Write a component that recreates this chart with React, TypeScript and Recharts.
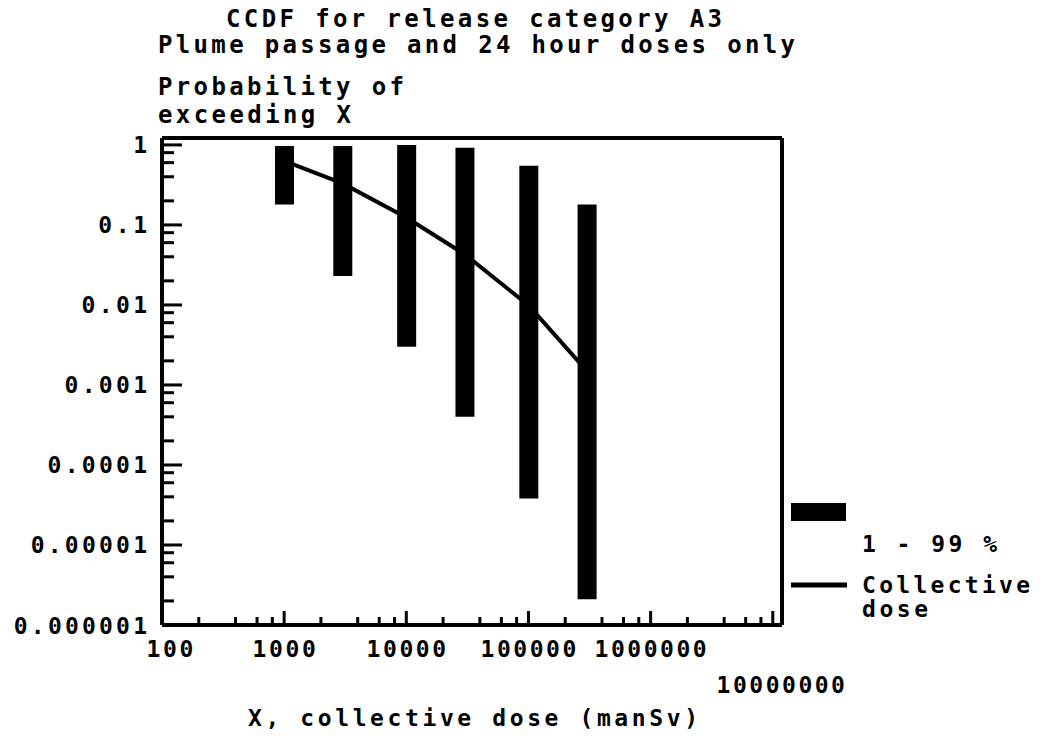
import React from "react";
import { ComposedChart, Bar, Line, ReferenceLine, XAxis, YAxis } from "recharts";

// collective dose X (manSv) and probability of exceeding X
const doses = [1000, 3000, 10000, 30000, 100000, 300000];
const pLow = [0.18, 0.023, 0.003, 0.0004, 0.000038, 0.0000021]; // 1 %
const pHigh = [0.97, 0.97, 1.0, 0.92, 0.55, 0.18]; // 99 %
const collective = [0.63, 0.33, 0.124, 0.043, 0.0099, 0.0015];

const xMajor = [100, 1000, 10000, 100000, 1000000, 10000000];
const xLabels = ["100", "1000", "10000", "100000", "1000000", "10000000"];
const yMajor = [0.000001, 0.00001, 0.0001, 0.001, 0.01, 0.1, 1];
const yLabels = ["0.000001", "0.00001", "0.0001", "0.001", "0.01", "0.1", "1"];
const minorSteps = [2, 4, 6, 8];

const xDomain = [100, 11900000];
const yDomain = [0.000001, 1.22];

const data = doses.map((x, i) => ({ x, range: [pLow[i], pHigh[i]], dose: collective[i] }));

const minors = (majors: number[]) =>
  majors.slice(0, -1).flatMap((m) => minorSteps.map((s) => m * s));

// minor tick length expressed as a fraction of a decade on each axis
const xMinorLen = Math.pow(10, 8 / 80);
const yMinorLen = Math.pow(10, 12 / 122);

const majorIndex = (majors: number[], v: number) =>
  majors.findIndex((m) => Math.abs(Math.log10(m) - Math.log10(v)) < 1e-6);

const MONO = "'DejaVu Sans Mono', monospace";

function XTick(props: any) {
  const { x, y, payload } = props;
  const i = majorIndex(xMajor, payload.value);
  if (i < 0) return <g />;
  const last = i === xMajor.length - 1;
  const first = i === 0;
  return (
    <g>
      <line x1={x} x2={x} y1={y} y2={y - 14} stroke="#000" strokeWidth={3} />
      <text
        x={x + (first ? 8 : last ? 8 : 0)}
        y={y + (last ? 68 : 32)}
        textAnchor="middle"
        fontFamily={MONO}
        fontWeight="bold"
        fontSize={23}
        textLength={xLabels[i].length * 16.3 - 2}
        lengthAdjust="spacing"
        fill="#000"
      >
        {xLabels[i]}
      </text>
    </g>
  );
}

function YTick(props: any) {
  const { x, y, payload } = props;
  const i = majorIndex(yMajor, payload.value);
  if (i < 0) return <g />;
  return (
    <g>
      <line x1={x} x2={x + 20} y1={y} y2={y} stroke="#000" strokeWidth={3} />
      <text
        x={x - 15}
        y={y + 8.5}
        textAnchor="end"
        fontFamily={MONO}
        fontWeight="bold"
        fontSize={23}
        textLength={yLabels[i].length * 16.9 - 2}
        lengthAdjust="spacing"
        fill="#000"
      >
        {yLabels[i]}
      </text>
    </g>
  );
}

export default function App() {
  const txt = { fontFamily: MONO, fontSize: 24, fontWeight: "bold", fill: "#000" };
  return (
    <div style={{ position: "relative", width: 1047, height: 739, margin: -8, background: "#fff" }}>
      <ComposedChart
        width={1047}
        height={739}
        data={data}
        margin={{ top: 137, right: 264, bottom: 113, left: 161 }}
      >
        <XAxis
          dataKey="x"
          type="number"
          scale="log"
          domain={xDomain}
          allowDataOverflow
          ticks={xMajor}
          interval={0}
          height={1}
          tickSize={0}
          tickMargin={0}
          tickLine={false}
          tick={<XTick />}
          axisLine={{ stroke: "#000", strokeWidth: 4 }}
        />
        <XAxis
          xAxisId="top"
          orientation="top"
          type="number"
          scale="log"
          domain={xDomain}
          allowDataOverflow
          height={1}
          tick={false}
          tickLine={false}
          axisLine={{ stroke: "#000", strokeWidth: 4 }}
        />
        <YAxis
          type="number"
          scale="log"
          domain={yDomain}
          allowDataOverflow
          ticks={yMajor}
          interval={0}
          width={1}
          tickSize={0}
          tickMargin={0}
          tickLine={false}
          tick={<YTick />}
          axisLine={{ stroke: "#000", strokeWidth: 4 }}
        />
        <YAxis
          yAxisId="right"
          orientation="right"
          type="number"
          scale="log"
          domain={yDomain}
          allowDataOverflow
          width={1}
          tick={false}
          tickLine={false}
          axisLine={{ stroke: "#000", strokeWidth: 4 }}
        />
        {minors(xMajor).map((v) => (
          <ReferenceLine
            key={`xm${v}`}
            segment={[
              { x: v, y: yDomain[0] },
              { x: v, y: yDomain[0] * xMinorLen },
            ]}
            stroke="#000"
            strokeWidth={3}
            ifOverflow="visible"
          />
        ))}
        {minors(yMajor).map((v) => (
          <ReferenceLine
            key={`ym${v}`}
            segment={[
              { x: xDomain[0], y: v },
              { x: xDomain[0] * yMinorLen, y: v },
            ]}
            stroke="#000"
            strokeWidth={3}
            ifOverflow="visible"
          />
        ))}
        <Bar dataKey="range" fill="#000" barSize={19} isAnimationActive={false} />
        <Line
          dataKey="dose"
          type="linear"
          stroke="#000"
          strokeWidth={4}
          dot={false}
          isAnimationActive={false}
        />
      </ComposedChart>

      <svg
        width={1047}
        height={739}
        style={{ position: "absolute", left: 0, top: 0, pointerEvents: "none" }}
      >
        <text x={226} y={27} textLength={496} lengthAdjust="spacing" {...txt}>
          CCDF for release category A3
        </text>
        <text x={158} y={53} textLength={637} lengthAdjust="spacing" {...txt}>
          Plume passage and 24 hour doses only
        </text>
        <text x={158} y={95} textLength={246} lengthAdjust="spacing" {...txt}>
          Probability of
        </text>
        <text x={158} y={123} textLength={193} lengthAdjust="spacing" {...txt}>
          exceeding X
        </text>

        <rect x={791} y={503} width={55} height={18} fill="#000" />
        <text x={862} y={552} textLength={135} lengthAdjust="spacing" {...txt} fontSize={23}>
          1 - 99 %
        </text>
        <line x1={791} x2={847} y1={585} y2={585} stroke="#000" strokeWidth={5} />
        <text x={862} y={593} textLength={168} lengthAdjust="spacing" {...txt} fontSize={23}>
          Collective
        </text>
        <text x={862} y={617} textLength={66} lengthAdjust="spacing" {...txt} fontSize={23}>
          dose
        </text>

        <text x={248} y={726} textLength={450} lengthAdjust="spacing" {...txt} fontSize={23}>
          X, collective dose (manSv)
        </text>
      </svg>
    </div>
  );
}
